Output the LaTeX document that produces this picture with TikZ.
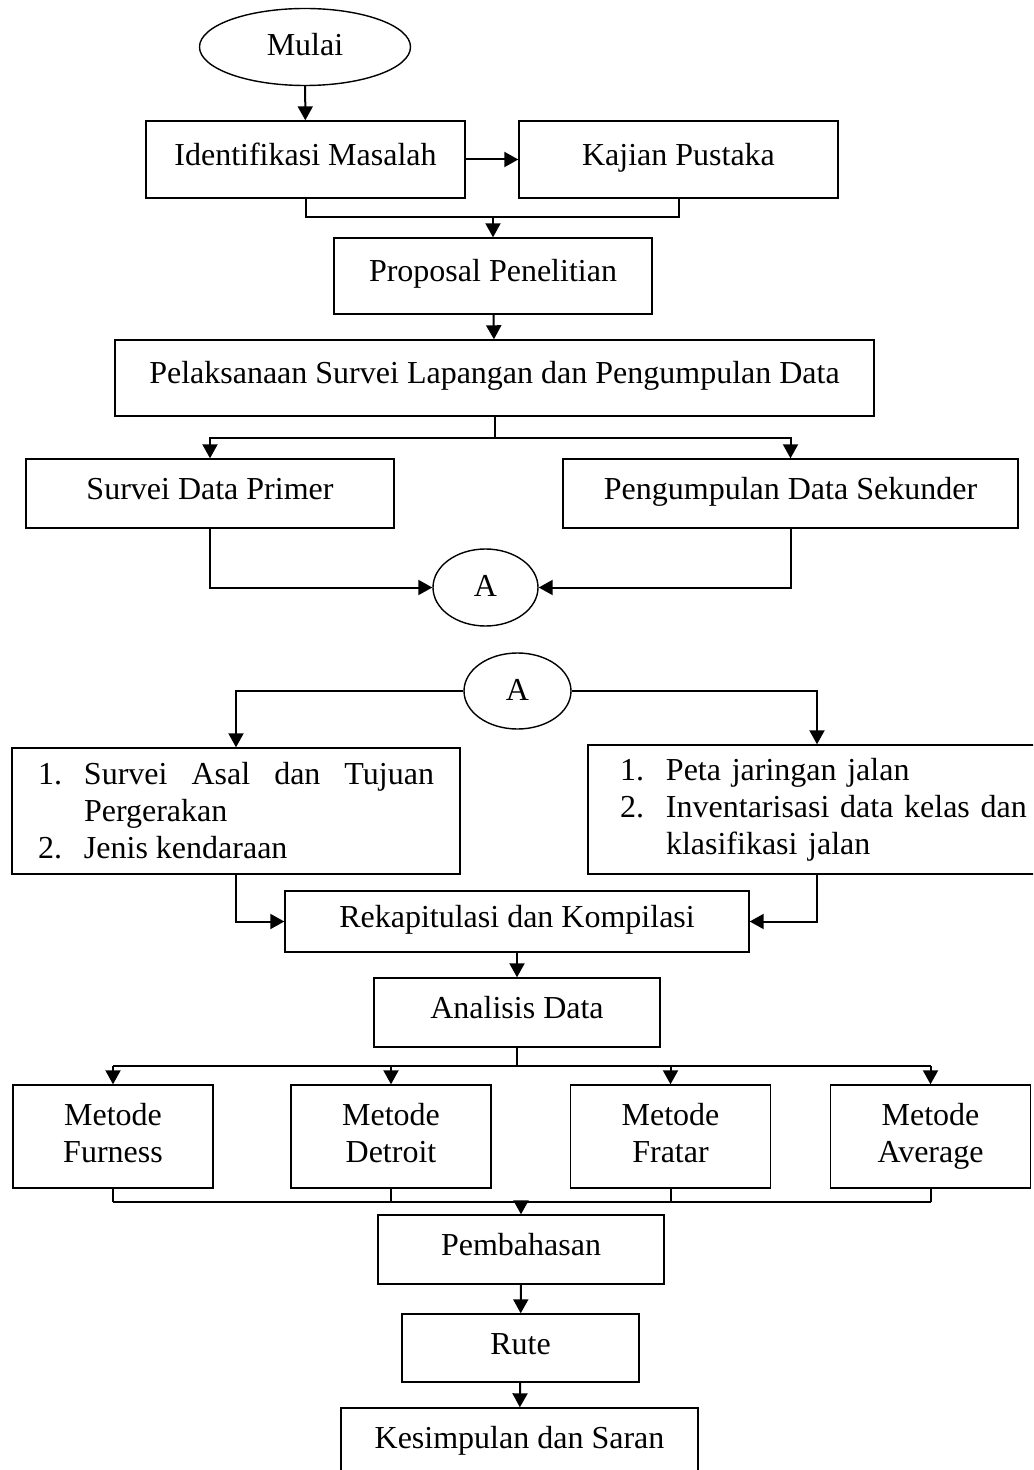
\documentclass[tikz,border=0pt]{standalone}
\usepackage{fontspec}
\setmainfont{Liberation Serif}
\usetikzlibrary{shapes.geometric,arrows.meta}
\tikzset{
  box/.style={draw, line width=0.7pt, inner sep=0pt, align=center, font=\fontsize{16}{18.5}\selectfont},
  one/.style={box, text height=11pt, text depth=5pt},
  oval/.style={box, ellipse, text height=11pt, text depth=2pt},
  list/.style={box, align=justify, inner xsep=13pt},
  link/.style={line width=1pt},
  arr/.style={link, -{Triangle[length=7pt,width=7.5pt]}}
}
\begin{document}
\begin{tikzpicture}[x=0.5pt,y=-0.5pt]
\useasboundingbox (0,0) rectangle (1033,1470);
\clip (0,0) rectangle (1033,1470);
\node[oval, minimum width=105.5pt, minimum height=38.5pt] (mulai) at (305,47) {Mulai};
\node[one, minimum width=159.5pt, minimum height=38.5pt] (ident) at (305.5,159.5) {Identifikasi Masalah};
\node[one, minimum width=159.5pt, minimum height=38.5pt] (kajian) at (678.5,159.5) {Kajian Pustaka};
\node[one, minimum width=159pt, minimum height=38pt] (proposal) at (493,276) {Proposal Penelitian};
\node[one, minimum width=379.5pt, minimum height=38pt] (survei) at (494.5,378) {Pelaksanaan Survei Lapangan dan Pengumpulan Data};
\node[one, minimum width=184pt, minimum height=34.5pt] (primer) at (210,493.5) {Survei Data Primer};
\node[one, minimum width=227.5pt, minimum height=34.5pt] (sekunder) at (790.5,493.5) {Pengumpulan Data Sekunder};
\node[oval, minimum width=52.5pt, minimum height=38.5pt] (a1) at (485.5,587.5) {A};
\node[oval, minimum width=53.5pt, minimum height=38pt] (a2) at (517.5,691) {A};
\node[list, text width=198pt, minimum height=63pt] (asal) at (236,811) {%
  \hangindent=23pt\hangafter=1\noindent\makebox[23pt][l]{1.}Survei Asal dan Tujuan\linebreak Pergerakan\par
  \noindent\makebox[23pt][l]{2.}Jenis kendaraan};
\node[box, align=left, text width=205pt, inner xsep=16pt, minimum height=64.5pt] (jalan) at (825,809.5) {%
  \makebox[23pt][l]{1.}Peta jaringan jalan\\
  \makebox[23pt][l]{2.}Inventarisasi data kelas dan\\
  \hspace*{23pt}klasifikasi jalan};
\node[one, minimum width=232pt, minimum height=30.5pt] (rekap) at (517,921.5) {Rekapitulasi dan Kompilasi};
\node[one, minimum width=143pt, minimum height=34.5pt] (analisis) at (517,1012.5) {Analisis Data};
\foreach \n/\x/\lbl in {furness/113/Furness, detroit/391/Detroit, fratar/670.5/Fratar, average/930.5/Average}
  \node[box, minimum width=100pt, minimum height=51.5pt] (\n) at (\x,1136.5) {\strut Metode\\\lbl\strut};
\node[one, minimum width=143pt, minimum height=34.5pt] (bahas) at (521,1249.5) {Pembahasan};
\node[one, minimum width=118.5pt, minimum height=34pt] (rute) at (520.5,1348) {Rute};
\node[one, minimum width=178.5pt, minimum height=34.5pt] (simpul) at (519.5,1442.5) {Kesimpulan dan Saran};
% upper part
\draw[arr] (mulai) -- (ident);
\draw[arr] (ident) -- (kajian);
\coordinate (j1) at (493,217);
\draw[link] (ident.south) |- (j1) -| (kajian.south);
\draw[arr] (j1) -- (proposal);
\draw[arr] (proposal) -- (survei);
\coordinate (j2) at (494.5,438);
\draw[link] (survei) -- (j2);
\draw[arr] (j2) -| (primer.north);
\draw[arr] (j2) -| (sekunder.north);
\draw[arr] (primer.south) |- (a1);
\draw[arr] (sekunder.south) |- (a1);
% lower part
\draw[arr] (a2) -| (asal.north);
\draw[arr] (a2) -| ([xshift=-4pt]jalan.north);
\draw[arr] (asal.south) |- (rekap);
\draw[arr] ([xshift=-4pt]jalan.south) |- (rekap);
\draw[arr] (rekap) -- (analisis);
\coordinate (j3) at (517,1066);
\coordinate (j4) at (521,1202);
\draw[link] (analisis) -- (j3);
\draw[link] (furness.north |- j3) -- (average.north |- j3);
\draw[link] (furness.south |- j4) -- (average.south |- j4);
\foreach \n in {furness,detroit,fratar,average} {
  \draw[arr] (\n.north |- j3) -- (\n);
  \draw[link] (\n.south) -- (\n.south |- j4);
}
\draw[arr] (j4) -- (bahas);
\draw[arr] (bahas) -- (rute);
\draw[arr] (rute) -- (simpul);
\end{tikzpicture}
\end{document}
